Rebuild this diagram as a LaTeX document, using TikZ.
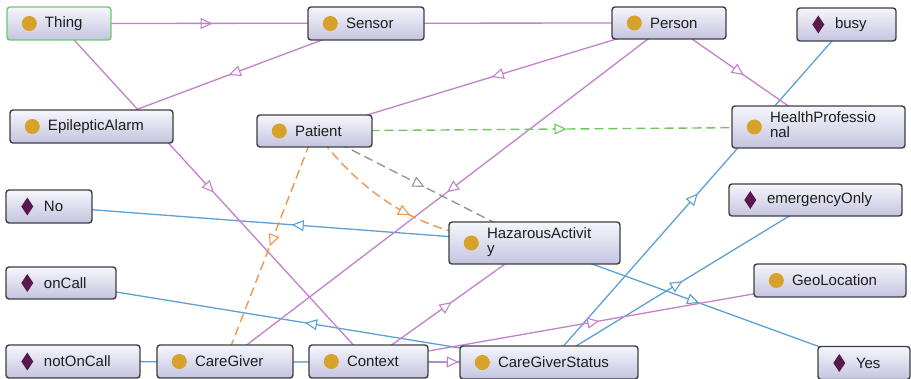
\documentclass[tikz,border=0pt]{standalone}
\usepackage{fontspec}
\setmainfont{Liberation Sans}
\usetikzlibrary{arrows.meta,decorations.markings}
\definecolor{edgepurple}{RGB}{196,128,204}
\definecolor{edgeblue}{RGB}{92,160,212}
\definecolor{edgegreen}{RGB}{110,200,90}
\definecolor{edgeteal}{RGB}{120,180,150}
\definecolor{edgeorange}{RGB}{236,150,80}
\definecolor{edgegray}{RGB}{150,150,150}
\definecolor{boxborder}{RGB}{62,62,66}
\definecolor{boxtop}{RGB}{246,246,252}
\definecolor{boxbot}{RGB}{196,196,224}
\definecolor{thingborder}{RGB}{110,200,110}
\definecolor{dotc}{RGB}{214,162,42}
\definecolor{diamc}{RGB}{90,25,78}
\definecolor{txtc}{RGB}{30,30,30}
\pgfdeclarelayer{edges}
\pgfsetlayers{edges,main}
\newcommand{\clsicon}[1]{\fill[dotc] ([xshift=23pt]#1.west) circle (7.5pt);}
\newcommand{\indicon}[1]{\fill[diamc] ([xshift=22pt]#1.west) +(0,-9pt) -- +(6pt,0) -- +(0,9pt) -- +(-6pt,0) -- cycle;}
\newcommand{\twoline}[2]{\hspace*{32pt}\begin{tabular}[c]{@{}l@{}}#1\\#2\end{tabular}}
\tikzset{
  box/.style={draw=boxborder, line width=1.4pt, rounded corners=3pt,
    top color=boxtop, bottom color=boxbot, inner xsep=6pt, inner ysep=0pt,
    align=left, text=txtc, font=\fontsize{15}{15}\selectfont, minimum height=33pt},
  midarrow/.style={postaction={decorate}, decoration={markings,
    mark=at position 0.5 with {\arrow{Triangle[length=12pt,width=11pt,fill=white,line width=1.1pt]}}}},
  subp/.style={draw=edgepurple, line width=1.3pt, midarrow},
  propb/.style={draw=edgeblue, line width=1.3pt, midarrow},
  propt/.style={draw=edgeteal, line width=1.3pt, opacity=0.6, midarrow},
  dashg/.style={draw=edgegreen, line width=1.4pt, dash pattern=on 9pt off 5pt, midarrow},
  dasho/.style={draw=edgeorange, line width=1.4pt, dash pattern=on 9pt off 5pt, midarrow},
  dashgr/.style={draw=edgegray, line width=1.4pt, dash pattern=on 9pt off 5pt, midarrow}
}
\begin{document}
\begin{tikzpicture}[x=1pt,y=-1pt]
\useasboundingbox (0,0) rectangle (911,379);
\clip (0,0) rectangle (911,379);
% nodes
\node[box, draw=thingborder, text width=92pt] (thing) at (59,23.5) {\hspace*{32pt}Thing};
\node[box, text width=104pt] (sensor) at (366,23.5) {\hspace*{32pt}Sensor};
\node[box, text width=102pt, minimum height=32pt] (person) at (669,23) {\hspace*{32pt}Person};
\node[box, text width=87pt] (busy) at (846.5,24.5) {\hspace*{32pt}busy};
\node[box, text width=151pt] (epil) at (91.5,126.5) {\hspace*{32pt}EpilepticAlarm};
\node[box, text width=103pt, minimum height=32pt] (patient) at (314.5,131) {\hspace*{32pt}Patient};
\node[box, text width=161pt, minimum height=42pt] (hp) at (818.5,127) {\twoline{HealthProfessio}{nal}};
\node[box, text width=74pt] (no) at (49,206.5) {\hspace*{32pt}No};
\node[box, text width=161pt, minimum height=32pt] (emerg) at (815.5,200) {\hspace*{32pt}emergencyOnly};
\node[box, text width=159pt, minimum height=42pt] (ha) at (534.5,243) {\twoline{HazarousActivit}{y}};
\node[box, text width=98pt, minimum height=32pt] (oncall) at (61,283) {\hspace*{32pt}onCall};
\node[box, text width=140pt] (geo) at (830,280.5) {\hspace*{32pt}GeoLocation};
\node[box, text width=122pt] (notoncall) at (73,361.5) {\hspace*{32pt}notOnCall};
\node[box, text width=124pt] (caregiver) at (225,361.5) {\hspace*{32pt}CareGiver};
\node[box, text width=107pt] (context) at (368.5,361.5) {\hspace*{32pt}Context};
\node[box, text width=166pt] (cgs) at (549,362.5) {\hspace*{32pt}CareGiverStatus};
\node[box, text width=80pt] (yes) at (864,363) {\hspace*{32pt}Yes};
% icons
\clsicon{thing} \clsicon{sensor} \clsicon{person} \clsicon{epil} \clsicon{patient}
\clsicon{hp} \clsicon{ha} \clsicon{geo} \clsicon{caregiver} \clsicon{context} \clsicon{cgs}
\indicon{busy} \indicon{no} \indicon{emerg} \indicon{oncall} \indicon{notoncall} \indicon{yes}
% edges
\begin{pgfonlayer}{edges}
\path[propb] (cgs.center) -- (busy.center);
\path[propb] (cgs.center) -- (emerg.center);
\path[propb] (ha.center) -- (yes.center);
\path[propb] (ha.center) -- (no.center);
\path[propb] (cgs.center) -- (oncall.center);
\path[propb] (cgs.center) -- (notoncall.center);
\path[propt] (caregiver.center) -- (cgs.center);
\path[subp] (thing.center) -- (sensor.center);
\path[subp] (thing.center) -- (person.center);
\path[subp] (thing.center) -- (context.center);
\path[subp] (sensor.center) -- (epil.center);
\path[subp] (person.center) -- (patient.center);
\path[subp] (person.center) -- (hp.center);
\path[subp] (person.center) -- (caregiver.center);
\path[subp] (context.center) -- (geo.center);
\path[subp] (context.center) -- (ha.center);
\path[subp] (context.center) -- (cgs.center);
\path[dashg] (patient.center) -- (hp.center);
\path[dashgr] (patient.center) -- (ha.center);
\path[dasho] (patient.center) to[bend right=26] (ha.center);
\path[dasho] (patient.center) -- (caregiver.center);
\end{pgfonlayer}
\end{tikzpicture}
\end{document}
